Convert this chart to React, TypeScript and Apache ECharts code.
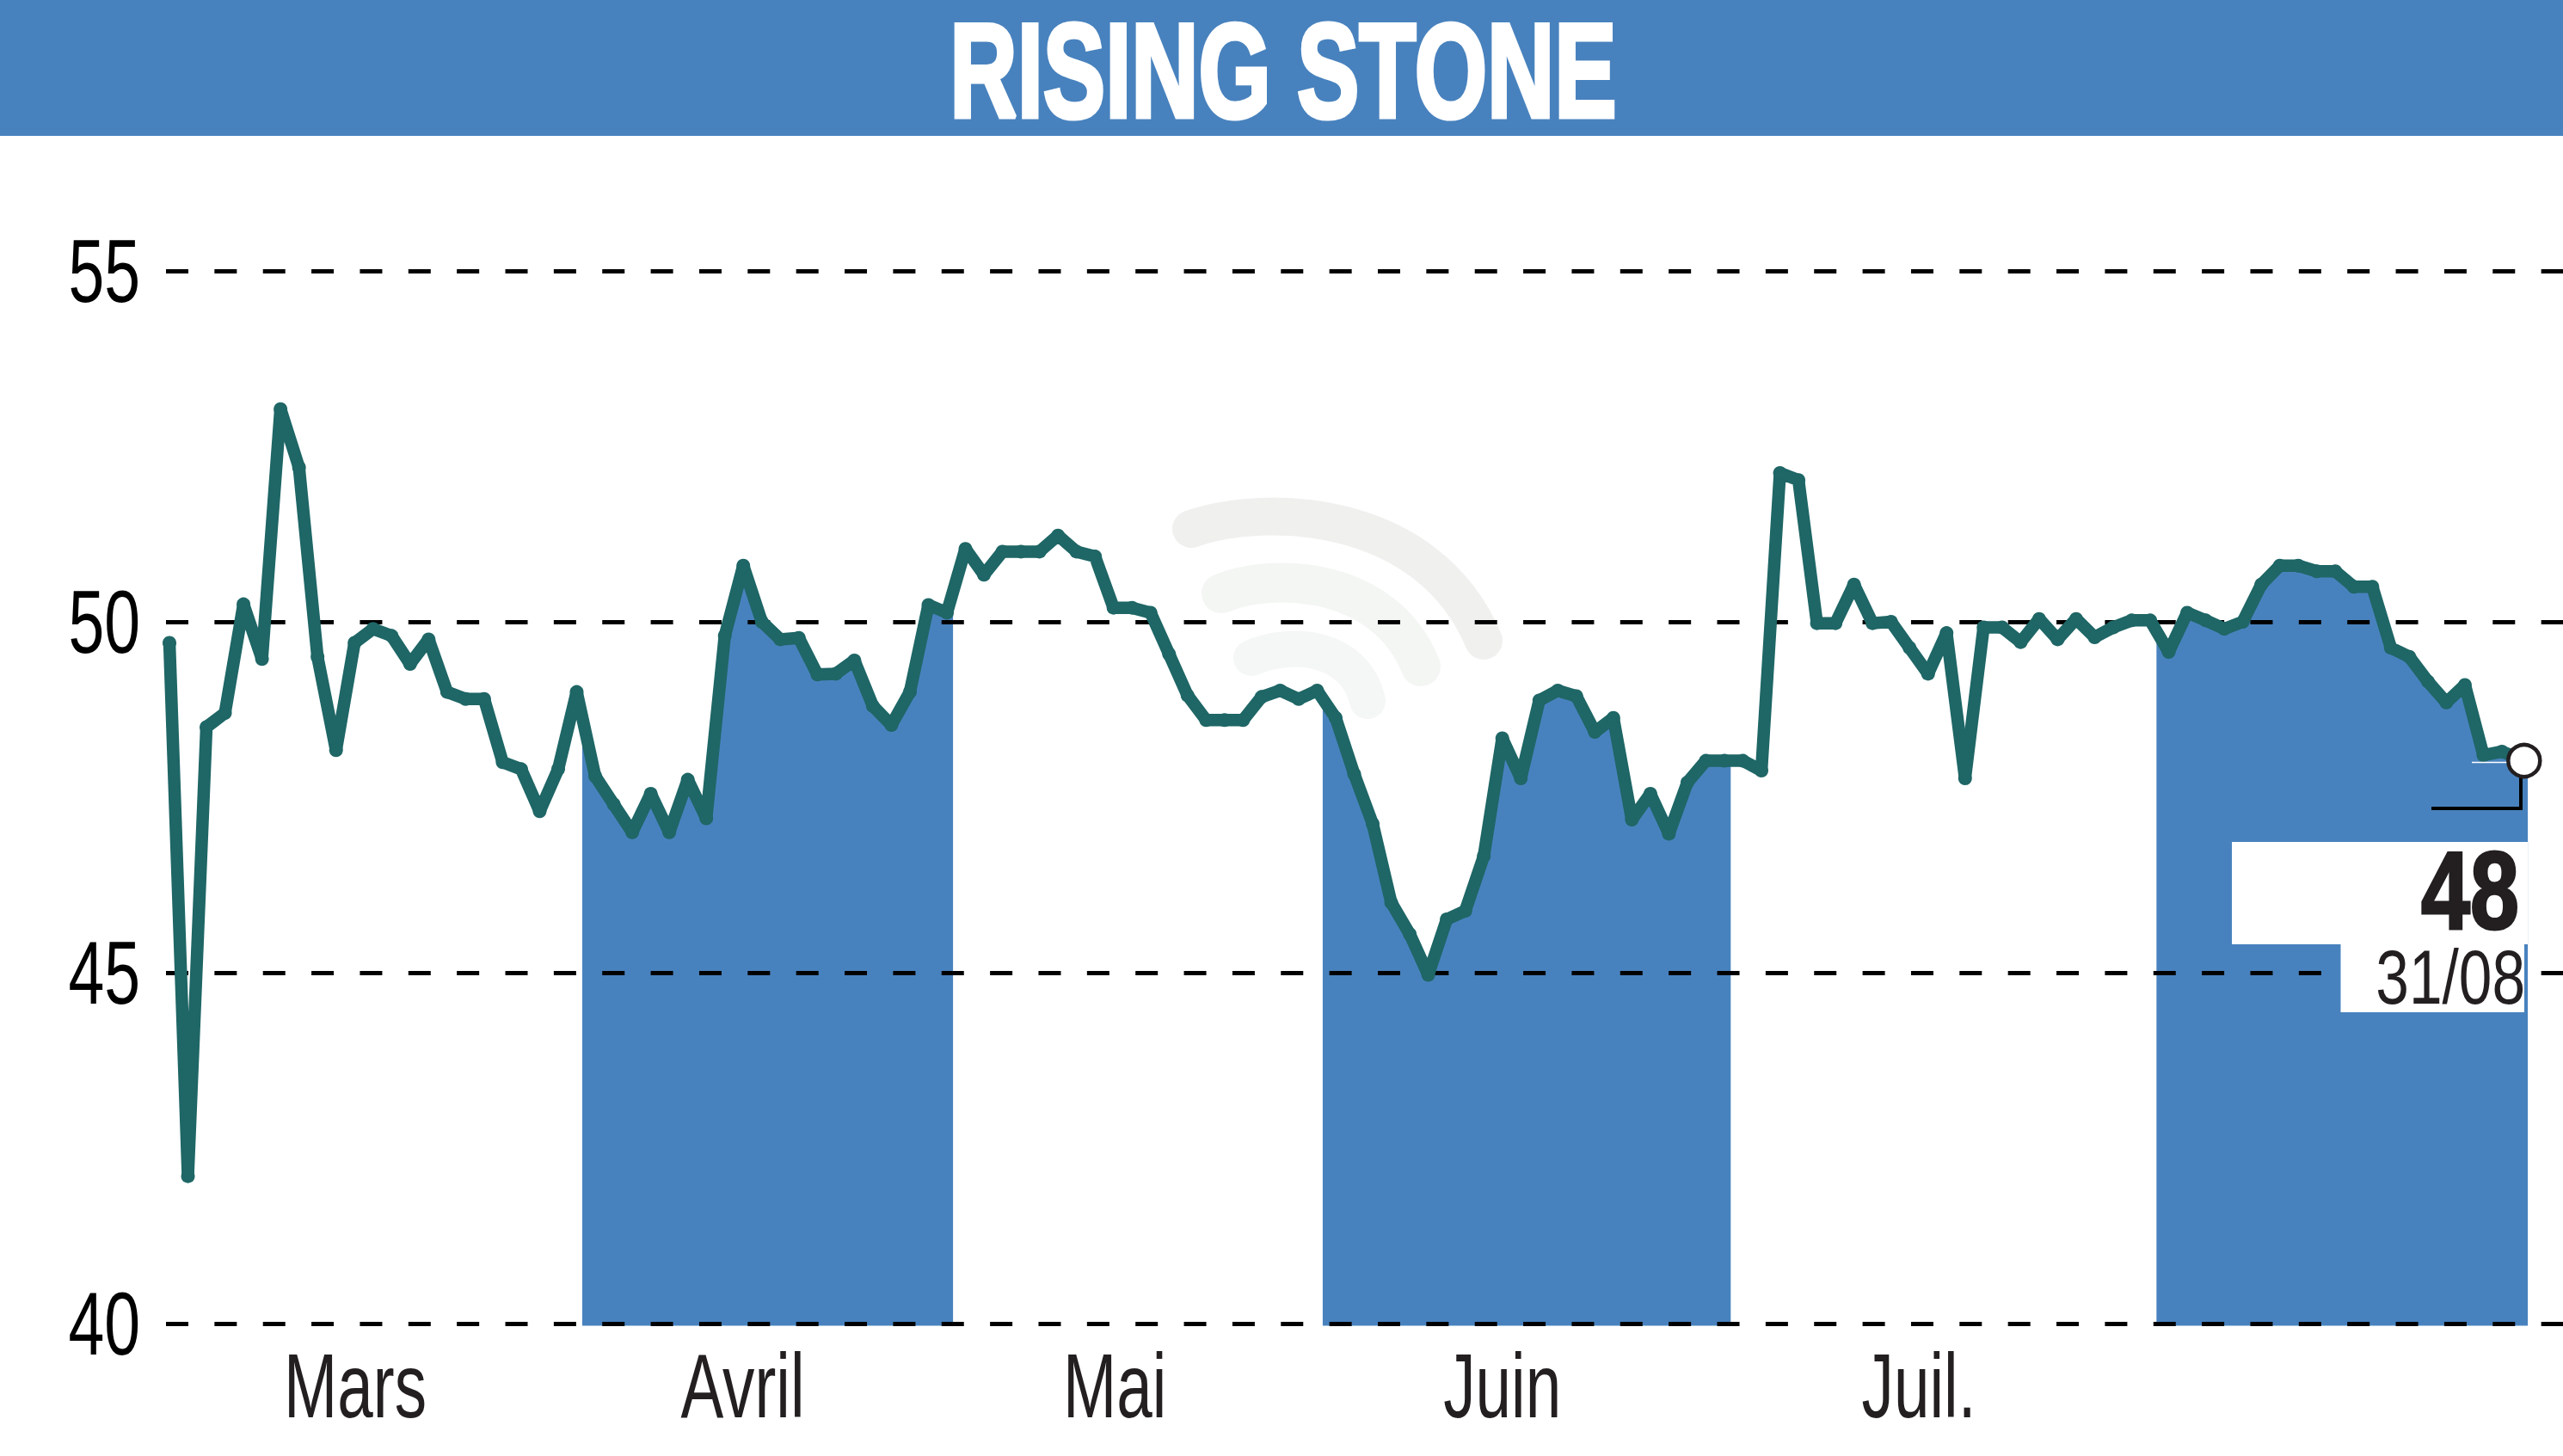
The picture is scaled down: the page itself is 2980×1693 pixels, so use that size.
/* eslint-disable */
import React, { useEffect, useRef } from "react";
import * as echarts from "echarts";

const WIDTH = 2980;
const HEIGHT = 1693;
const BLUE = "#4882BE";
const GREEN = "#1F6666";
const INK = "#231F20";
const FONT = '"Liberation Sans", sans-serif';

const title = "RISING STONE";
const lastValue = "48";
const lastDate = "31/08";

// one value per trading session
const prices = [
  49.7, 42.1, 48.5, 48.7, 50.25, 49.47, 53.03, 52.2, 49.5, 48.17,
  49.7, 49.9, 49.8, 49.4, 49.75, 49.0, 48.9, 48.9, 48.0, 47.9,
  47.3, 47.9, 49.0, 47.8, 47.4, 47.0, 47.55, 47.0, 47.75, 47.2,
  49.8, 50.8, 50.0, 49.75, 49.77, 49.25, 49.26, 49.45, 48.8, 48.53,
  49.0, 50.24, 50.13, 51.04, 50.67, 51.0, 51.0, 51.0, 51.23, 51.0,
  50.93, 50.2, 50.2, 50.13, 49.54, 48.95, 48.6, 48.6, 48.6, 48.93,
  49.02, 48.9, 49.02, 48.63, 47.83, 47.12, 46.0, 45.55, 44.97, 45.76,
  45.88, 46.66, 48.34, 47.77, 48.88, 49.02, 48.94, 48.43, 48.63, 47.18,
  47.55, 46.98, 47.71, 48.02, 48.02, 48.02, 47.88, 52.12, 52.02, 49.98,
  49.98, 50.53, 49.98, 50.0, 49.63, 49.26, 49.84, 47.77, 49.92, 49.92,
  49.71, 50.04, 49.75, 50.04, 49.78, 49.92, 50.02, 50.02, 49.57, 50.13,
  50.02, 49.9, 50.0, 50.53, 50.8, 50.8, 50.72, 50.72, 50.5, 50.5,
  49.63, 49.5, 49.15, 48.85, 49.1, 48.1, 48.15, 48.05,
];

// alternate months, as spans on the session index
const monthBands = [
  [22.3, 42.33],
  [62.3, 84.34],
  [107.34, 127.4],
];

const monthLabels = ["Mars", "Avril", "Mai", "Juin", "Juil."];
const monthTicks = [10.04, 30.97, 51.07, 72, 94.5];
const priceTicks = [40, 45, 50, 55];
const lastPoint = [127.2, 48.02];

const X_MIN = -0.186;
const X_MAX = 129.3;

const renderBand = (params: any, api: any) => {
  const from = api.value(0);
  const to = api.value(1);
  const lineAt = (x: number) => {
    const i = Math.min(Math.floor(x), prices.length - 1);
    const j = Math.min(i + 1, prices.length - 1);
    return prices[i] + (prices[j] - prices[i]) * (x - i);
  };
  const top: number[][] = [api.coord([from, lineAt(from)])];
  prices.forEach((v, i) => {
    if (i > from && i < to) top.push(api.coord([i, v]));
  });
  top.push(api.coord([to, lineAt(to)]));
  const bottomY = api.coord([from, 40])[1] + 2.5;
  const points = [
    ...top,
    [api.coord([to, 40])[0], bottomY],
    [api.coord([from, 40])[0], bottomY],
  ];
  return {
    type: "polygon",
    shape: { points },
    style: { fill: BLUE },
  };
};

// the labels are squeezed sideways, which axisLabel can't do
const renderMonthLabel = (params: any, api: any) => {
  const p = api.coord([api.value(0), priceTicks[0]]);
  return {
    type: "text",
    x: p[0],
    y: p[1] + 72,
    scaleX: 0.705,
    style: {
      text: monthLabels[params.dataIndex],
      fontFamily: FONT,
      fontSize: 106,
      fill: INK,
      textAlign: "center",
      textVerticalAlign: "middle",
    },
  };
};

const renderPriceLabel = (params: any, api: any) => {
  const p = api.coord([X_MIN, api.value(1)]);
  return {
    type: "text",
    x: p[0] - 30,
    y: p[1],
    scaleX: 0.73,
    style: {
      text: String(priceTicks[params.dataIndex]),
      fontFamily: FONT,
      fontSize: 103,
      fill: "#000",
      textAlign: "right",
      textVerticalAlign: "middle",
    },
  };
};

const App = () => {
  const chartRef = useRef<HTMLDivElement>(null);

  useEffect(() => {
    // @ts-ignore
    const chart = echarts.init(chartRef.current, null, { renderer: "svg" });

    const options = {
      animation: false,
      backgroundColor: "#fff",
      grid: { left: 193, right: 0, top: 315, bottom: 154 },
      xAxis: {
        type: "value",
        min: X_MIN,
        max: X_MAX,
        axisLine: { show: false },
        axisTick: { show: false },
        splitLine: { show: false },
        axisLabel: { show: false },
      },
      yAxis: {
        type: "value",
        z: 1,
        min: priceTicks[0],
        max: priceTicks[priceTicks.length - 1],
        interval: 5,
        axisLine: { show: false },
        axisTick: { show: false },
        axisLabel: { show: false },
        splitLine: {
          show: true,
          lineStyle: { color: "#000", width: 5, type: [26, 30.36] },
        },
      },
      series: [
        {
          type: "custom",
          z: 0,
          silent: true,
          clip: false,
          renderItem: renderBand,
          encode: { x: [0, 1] },
          data: monthBands,
        },
        {
          type: "custom",
          z: 1,
          silent: true,
          clip: false,
          renderItem: renderMonthLabel,
          encode: { x: 0 },
          data: monthTicks.map((t) => [t]),
        },
        {
          type: "custom",
          z: 1,
          silent: true,
          clip: false,
          renderItem: renderPriceLabel,
          encode: { y: 1 },
          data: priceTicks.map((t) => [0, t]),
        },
        {
          type: "line",
          z: 3,
          silent: true,
          symbol: "circle",
          symbolSize: 16,
          showSymbol: true,
          showAllSymbol: true,
          lineStyle: { color: GREEN, width: 14.5, join: "bevel", cap: "butt" },
          itemStyle: { color: GREEN, opacity: 1 },
          data: prices.map((v, i) => [i, v]),
        },
        {
          type: "scatter",
          z: 5,
          silent: true,
          symbol: "circle",
          symbolSize: 37,
          itemStyle: { color: "#fff", borderColor: INK, borderWidth: 4.5, opacity: 1 },
          data: [lastPoint],
        },
      ],
      graphic: [
        {
          type: "rect",
          z: 10,
          shape: { x: 0, y: 0, width: WIDTH, height: 158 },
          style: { fill: BLUE },
        },
        {
          type: "text",
          z: 11,
          x: 1492,
          y: 81,
          scaleX: 0.723,
          scaleY: 1.04,
          style: {
            text: title,
            fontFamily: FONT,
            fontWeight: "bold",
            fontSize: 150,
            fill: "#fff",
            stroke: "#fff",
            lineWidth: 5,
            textAlign: "center",
            textVerticalAlign: "middle",
          },
        },
        // watermark
        {
          type: "bezierCurve",
          z: -1,
          shape: { x1: 1385, y1: 615, cpx1: 1470, cpy1: 585, cpx2: 1660, cpy2: 590, x2: 1725, y2: 745 },
          style: { stroke: "#f0f1ef", lineWidth: 44, lineCap: "round", fill: "none" },
        },
        {
          type: "bezierCurve",
          z: -1,
          shape: { x1: 1420, y1: 690, cpx1: 1480, cpy1: 665, cpx2: 1610, cpy2: 670, x2: 1652, y2: 775 },
          style: { stroke: "#f3f6f3", lineWidth: 46, lineCap: "round", fill: "none" },
        },
        {
          type: "bezierCurve",
          z: -1,
          shape: { x1: 1455, y1: 765, cpx1: 1500, cpy1: 745, cpx2: 1575, cpy2: 750, x2: 1590, y2: 815 },
          style: { stroke: "#f4f7f5", lineWidth: 42, lineCap: "round", fill: "none" },
        },
        // last value call-out
        {
          type: "rect",
          z: 6,
          shape: { x: 2595, y: 979, width: 344, height: 119 },
          style: { fill: "#fff" },
        },
        {
          type: "rect",
          z: 6,
          shape: { x: 2721.5, y: 1098, width: 213.5, height: 79 },
          style: { fill: "#fff" },
        },
        {
          type: "line",
          z: 4,
          shape: { x1: 2874, y1: 886.5, x2: 2920, y2: 886.5 },
          style: { stroke: "#fff", lineWidth: 1.5 },
        },
        {
          type: "polyline",
          z: 4,
          shape: { points: [[2931, 900], [2931, 940], [2827, 940]] },
          style: { stroke: "#000", lineWidth: 4, fill: "none" },
        },
        {
          type: "text",
          z: 7,
          x: 2929,
          y: 1036,
          scaleX: 0.8,
          style: {
            text: lastValue,
            fontFamily: FONT,
            fontWeight: "bold",
            fontSize: 128,
            fill: INK,
            stroke: INK,
            lineWidth: 3,
            textAlign: "right",
            textVerticalAlign: "middle",
          },
        },
        {
          type: "text",
          z: 7,
          x: 2936,
          y: 1136,
          scaleX: 0.78,
          style: {
            text: lastDate,
            fontFamily: FONT,
            fontSize: 89,
            fill: INK,
            textAlign: "right",
            textVerticalAlign: "middle",
          },
        },
      ],
    };

    chart.setOption(options);

    return () => {
      chart.dispose();
    };
  }, []);

  return (
    <div
      ref={chartRef}
      style={{ position: "absolute", left: 0, top: 0, width: WIDTH, height: HEIGHT }}
    />
  );
};

export default App;
